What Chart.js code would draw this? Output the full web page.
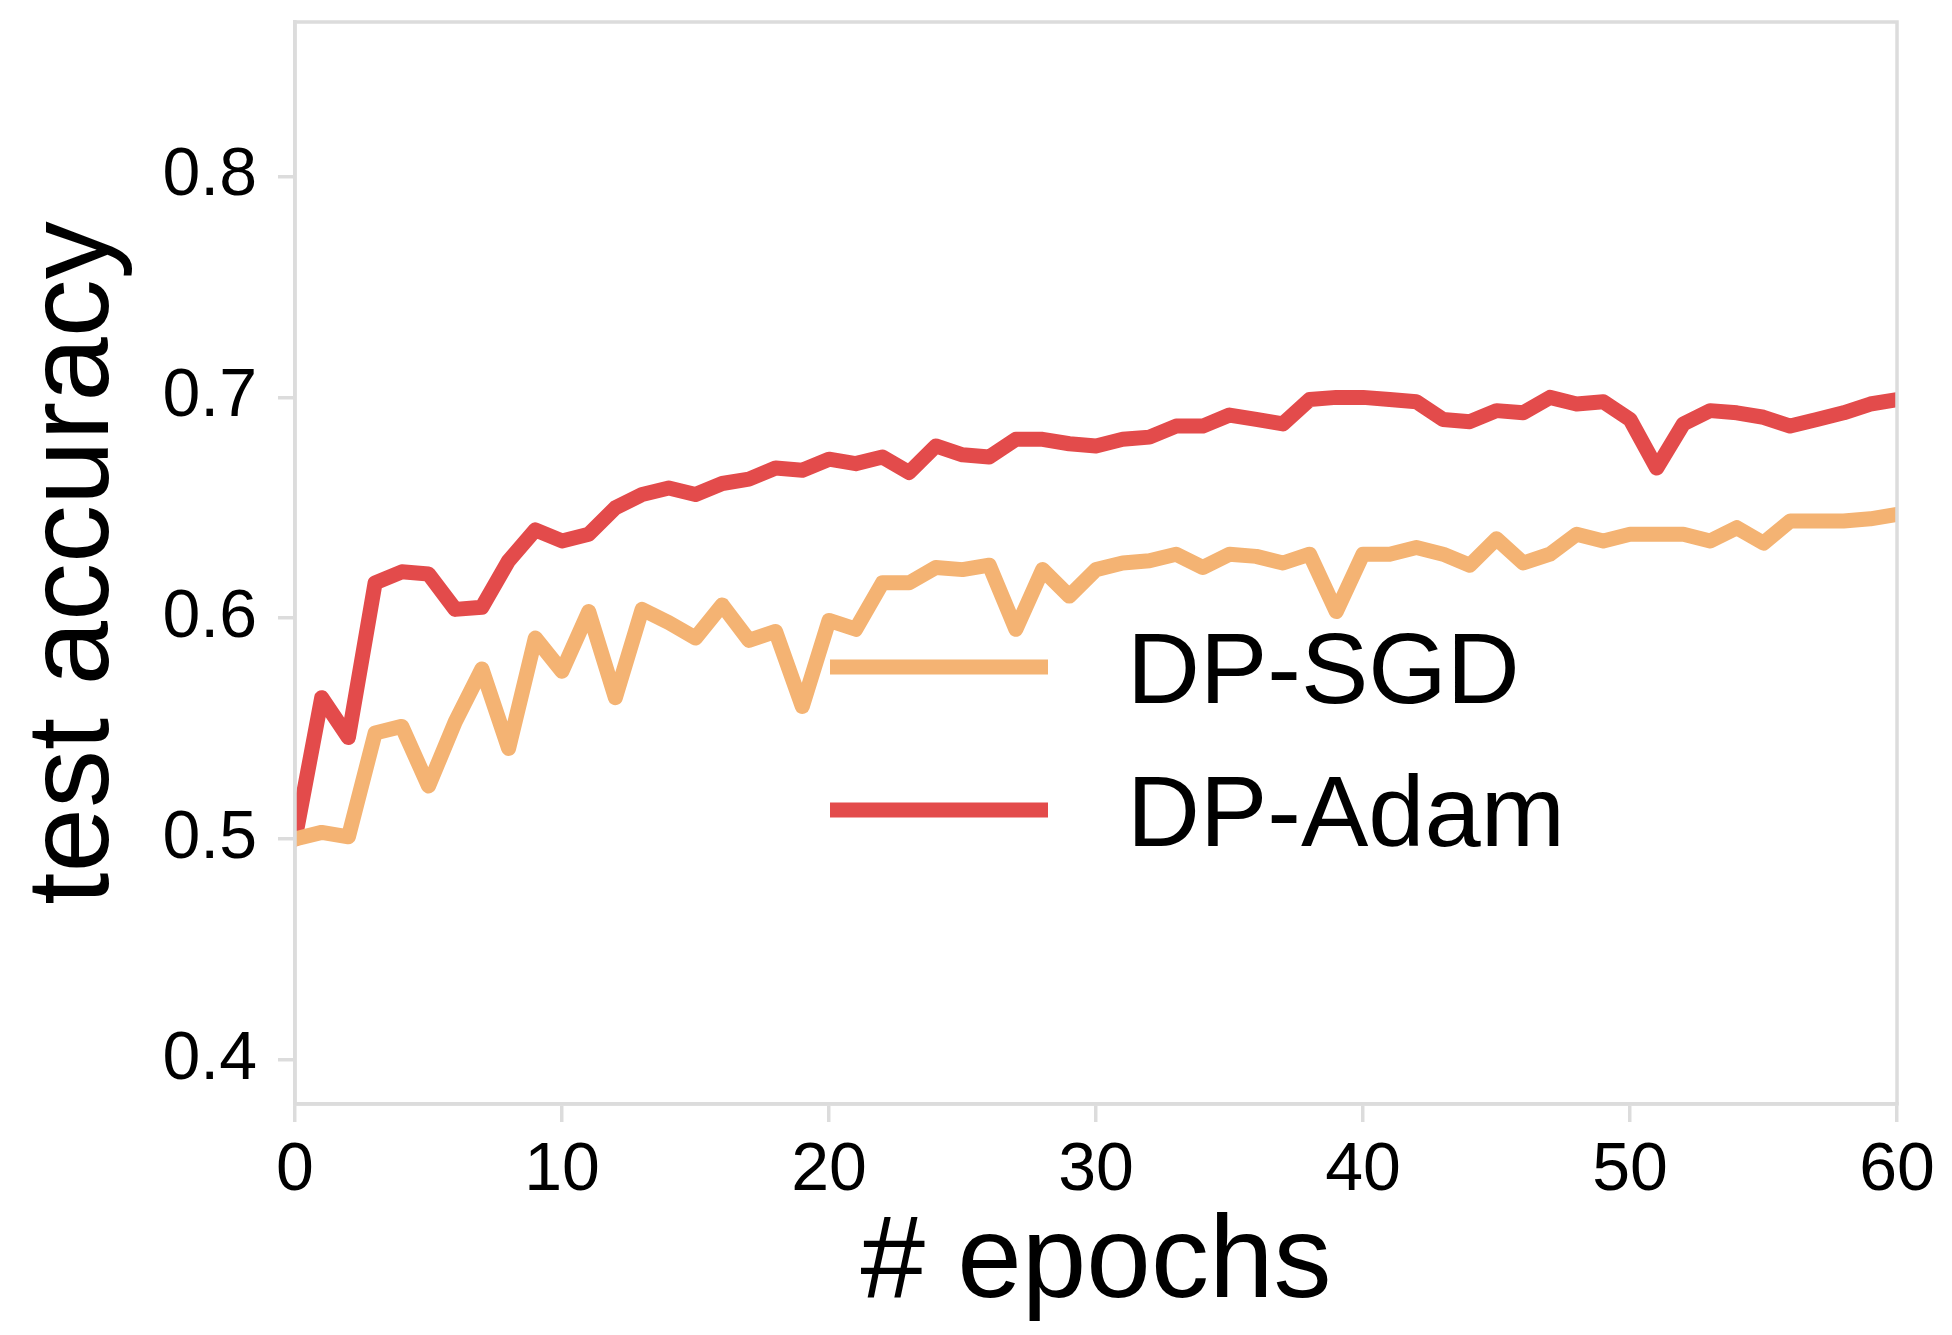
<!DOCTYPE html>
<html>
<head>
<meta charset="utf-8">
<script src="https://cdn.jsdelivr.net/npm/chart.js@4.4.1/dist/chart.umd.min.js"></script>
<style>
    html, body { margin: 0; padding: 0; background: #ffffff; }
    canvas { display: block; }
</style>
</head>
<body>
<canvas id="accChart" width="1952" height="1335"></canvas>
<script>
const epochs = [
    0, 1, 2, 3, 4, 5, 6, 7, 8, 9, 10, 11, 12, 13, 14, 15, 16, 17, 18, 19, 20,
    21, 22, 23, 24, 25, 26, 27, 28, 29, 30, 31, 32, 33, 34, 35, 36, 37, 38, 39, 40,
    41, 42, 43, 44, 45, 46, 47, 48, 49, 50, 51, 52, 53, 54, 55, 56, 57, 58, 59, 60
];

const sgdAcc = [
    0.500, 0.503, 0.501, 0.548, 0.551, 0.524, 0.553, 0.577, 0.541, 0.591, 0.576,
    0.603, 0.564, 0.604, 0.598, 0.591, 0.606, 0.590, 0.594, 0.560, 0.599,
    0.595, 0.616, 0.616, 0.623, 0.622, 0.624, 0.595, 0.622, 0.610, 0.622,
    0.625, 0.626, 0.629, 0.623, 0.629, 0.628, 0.625, 0.629, 0.603, 0.629,
    0.629, 0.632, 0.629, 0.624, 0.636, 0.625, 0.629, 0.638, 0.635, 0.638,
    0.638, 0.638, 0.635, 0.641, 0.634, 0.644, 0.644, 0.644, 0.645, 0.647
];

const adamAcc = [
    0.500, 0.564, 0.546, 0.616, 0.621, 0.620, 0.604, 0.605, 0.626, 0.640, 0.635,
    0.638, 0.650, 0.656, 0.659, 0.656, 0.661, 0.663, 0.668, 0.667, 0.672,
    0.670, 0.673, 0.666, 0.678, 0.674, 0.673, 0.681, 0.681, 0.679, 0.678,
    0.681, 0.682, 0.687, 0.687, 0.692, 0.690, 0.688, 0.699, 0.700, 0.700,
    0.699, 0.698, 0.690, 0.689, 0.694, 0.693, 0.700, 0.697, 0.698, 0.690,
    0.668, 0.688, 0.694, 0.693, 0.691, 0.687, 0.690, 0.693, 0.697, 0.699
];

const seriesNames = ['DP-SGD', 'DP-Adam'];
const seriesColors = ['#f4b373', '#e34b4b'];
const xTicks = [0, 10, 20, 30, 40, 50, 60];
const yTicks = [0.4, 0.5, 0.6, 0.7, 0.8];

const FONT = "'Liberation Sans', Arial, Helvetica, sans-serif";
const AXIS_GRAY = '#dcdcdc';

function toPoints(values) {
    return values.map((v, i) => ({ x: epochs[i], y: v }));
}

// frame on top and right, legend inside the plot
const framePlugin = {
    id: 'frame',
    afterDatasetsDraw(chart) {
        const { ctx, chartArea } = chart;
        ctx.save();
        ctx.strokeStyle = AXIS_GRAY;
        ctx.lineWidth = 3.5;
        ctx.strokeRect(chartArea.left, chartArea.top, chartArea.right - chartArea.left, chartArea.bottom - chartArea.top);
        ctx.restore();
    }
};

const legendPlugin = {
    id: 'insideLegend',
    afterDraw(chart) {
        const { ctx, chartArea } = chart;
        const x0 = chartArea.left + 535;
        const x1 = chartArea.left + 753;
        const textX = chartArea.left + 832;
        const rowY = [chartArea.top + 645, chartArea.top + 788];
        const size = 101;

        ctx.save();
        chart.data.datasets.forEach((ds, i) => {
            ctx.strokeStyle = ds.borderColor;
            ctx.lineWidth = 15;
            ctx.lineCap = 'butt';
            ctx.beginPath();
            ctx.moveTo(x0, rowY[i]);
            ctx.lineTo(x1, rowY[i]);
            ctx.stroke();

            ctx.fillStyle = '#000000';
            ctx.font = `${size}px ${FONT}`;
            ctx.textAlign = 'left';
            ctx.textBaseline = 'alphabetic';
            ctx.fillText(ds.label, textX, rowY[i] + size * 0.358);
        });
        ctx.restore();
    }
};

document.addEventListener('DOMContentLoaded', function () {
    const ctx = document.getElementById('accChart').getContext('2d');

    new Chart(ctx, {
        type: 'line',
        data: {
            datasets: [
                {
                    label: seriesNames[0],
                    data: toPoints(sgdAcc),
                    borderColor: seriesColors[0],
                    backgroundColor: seriesColors[0],
                    clip: 0
                },
                {
                    label: seriesNames[1],
                    data: toPoints(adamAcc),
                    borderColor: seriesColors[1],
                    backgroundColor: seriesColors[1],
                    clip: 0
                }
            ]
        },
        options: {
            responsive: false,
            animation: false,
            devicePixelRatio: 1,
            layout: {
                padding: { top: 22, right: 55, bottom: 0, left: 0 }
            },
            elements: {
                point: { radius: 0, hoverRadius: 0 },
                line: {
                    borderWidth: 15,
                    tension: 0,
                    borderJoinStyle: 'round',
                    borderCapStyle: 'round'
                }
            },
            plugins: {
                legend: { display: false },
                tooltip: { enabled: false }
            },
            scales: {
                x: {
                    type: 'linear',
                    min: xTicks[0],
                    max: xTicks[xTicks.length - 1],
                    afterBuildTicks(scale) {
                        scale.ticks = xTicks.map(v => ({ value: v }));
                    },
                    afterFit(scale) {
                        scale.height = 231;
                        scale.paddingLeft = 0;
                        scale.paddingRight = 0;
                    },
                    ticks: {
                        color: '#000000',
                        padding: 8,
                        maxRotation: 0,
                        font: { family: FONT, size: 68 }
                    },
                    grid: {
                        drawOnChartArea: false,
                        tickLength: 18,
                        color: AXIS_GRAY,
                        lineWidth: 3.5
                    },
                    border: { color: AXIS_GRAY, width: 3.5 },
                    title: {
                        display: true,
                        text: '# epochs',
                        color: '#000000',
                        padding: { top: 0, bottom: 0 },
                        font: { family: FONT, size: 116, lineHeight: 1.2 }
                    }
                },
                y: {
                    min: 0.38,
                    max: 0.87,
                    afterBuildTicks(scale) {
                        scale.ticks = yTicks.map(v => ({ value: v }));
                    },
                    afterFit(scale) {
                        scale.width = 295;
                        scale.paddingTop = 0;
                        scale.paddingBottom = 0;
                    },
                    ticks: {
                        color: '#000000',
                        padding: 21,
                        font: { family: FONT, size: 68 },
                        callback: function (val) {
                            return Number(val).toFixed(1);
                        }
                    },
                    grid: {
                        drawOnChartArea: false,
                        tickLength: 17,
                        color: AXIS_GRAY,
                        lineWidth: 3.5
                    },
                    border: { color: AXIS_GRAY, width: 3.5 },
                    title: {
                        display: true,
                        text: 'test accuracy',
                        color: '#000000',
                        padding: { top: 6, bottom: 0 },
                        font: { family: FONT, size: 116, lineHeight: 1.2 }
                    }
                }
            }
        },
        plugins: [framePlugin, legendPlugin]
    });
});
</script>
</body>
</html>
